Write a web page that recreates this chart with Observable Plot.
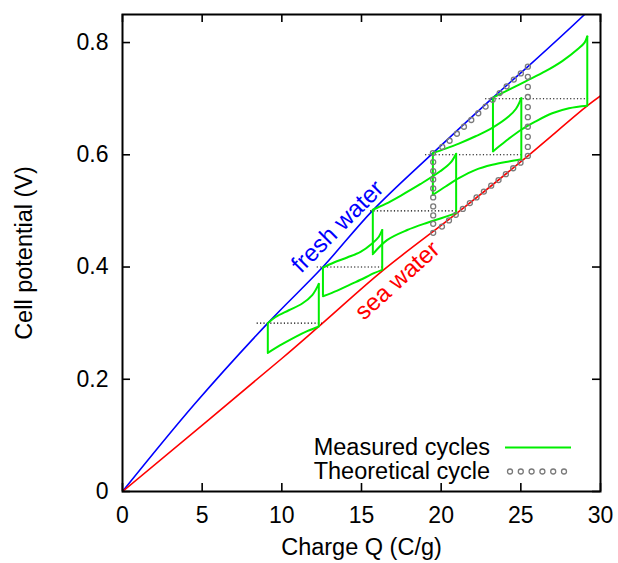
<!DOCTYPE html>
<html><head><meta charset="utf-8">
<script src="https://cdn.jsdelivr.net/npm/d3@7"></script>
<script src="https://cdn.jsdelivr.net/npm/@observablehq/plot@0.6"></script>
<style>body{margin:0;background:#fff}</style>
</head><body><div id="chart"></div>
<script>
// ---- data ----
const xTicks = [0, 5, 10, 15, 20, 25, 30];
const yTicks = [0, 0.2, 0.4, 0.6, 0.8];

const freshQ = [0, 4.5, 9.15, 12.57, 15.71, 19.48, 23.25, 25.44, 29.0, 29.6];
const freshV = [0, 0.155, 0.301, 0.400, 0.501, 0.603, 0.702, 0.757, 0.85, 0.867];

const seaQ = [0, 10, 12.4, 16.35, 20.95, 25.1, 29.2, 30];
const seaV = [0, 0.237, 0.296, 0.394, 0.495, 0.590, 0.688, 0.705];

const upperQ = [
  [9.12, 9.61, 10.44, 11.28, 11.91, 12.32],
  [12.58, 13.27, 14.10, 14.94, 15.67, 16.09, 16.30],
  [15.71, 16.51, 17.45, 18.71, 19.96, 20.59, 20.94],
  [19.48, 20.28, 21.11, 22.16, 23.21, 24.25, 24.70, 25.03],
  [23.25, 24.04, 25.30, 26.55, 27.60, 28.60, 29.00, 29.17]
];
const upperV = [
  [0.300, 0.311, 0.323, 0.335, 0.350, 0.370],
  [0.399, 0.408, 0.417, 0.427, 0.442, 0.454, 0.466],
  [0.502, 0.5125, 0.527, 0.548, 0.571, 0.586, 0.602],
  [0.603, 0.611, 0.620, 0.633, 0.648, 0.6685, 0.682, 0.701],
  [0.702, 0.713, 0.731, 0.749, 0.767, 0.789, 0.800, 0.811]
];
const lowerQ = [
  [9.12, 10.02, 10.86, 11.59, 12.32],
  [12.58, 13.48, 14.31, 15.15, 15.78, 16.30],
  [15.71, 16.60, 17.87, 19.13, 20.00, 20.94],
  [19.48, 20.28, 21.11, 22.16, 23.21, 24.25, 25.03],
  [23.25, 24.04, 24.88, 25.93, 26.97, 28.02, 29.17]
];
const lowerV = [
  [0.247, 0.2625, 0.2756, 0.2857, 0.294],
  [0.348, 0.358, 0.369, 0.380, 0.389, 0.395],
  [0.423, 0.448, 0.466, 0.479, 0.487, 0.496],
  [0.5286, 0.5435, 0.5583, 0.5732, 0.5821, 0.5881, 0.592],
  [0.606, 0.624, 0.642, 0.6595, 0.674, 0.683, 0.6875]
];

const levelV  = [0.3, 0.4, 0.5, 0.6, 0.7];
const levelQ1 = [8.45, 12.22, 15.57, 19.02, 22.79];
const levelQ2 = [12.55, 16.36, 21.03, 25.05, 29.25];

const theoQ = [19.48,20.07,20.53,20.99,21.43,21.89,22.33,22.79,23.23,23.67,24.11,24.56,25.00,25.44,
  25.44,25.44,25.44,25.44,25.44,25.44,25.44,25.44,25.44,
  24.98,24.52,24.06,23.60,23.14,22.68,22.22,21.80,21.36,20.92,20.49,20.05,19.50,
  19.5,19.5,19.5,19.5,19.5,19.5,19.5,19.5];
const theoV = [0.603,0.614,0.625,0.6375,0.650,0.662,0.674,0.686,0.698,0.710,0.722,0.734,0.745,0.757,
  0.739,0.721,0.703,0.685,0.667,0.650,0.632,0.614,0.598,
  0.586,0.576,0.5655,0.555,0.545,0.5345,0.524,0.514,0.5036,0.493,0.483,0.472,0.461,
  0.477,0.492,0.508,0.524,0.540,0.556,0.571,0.587];

const labelText  = ["fresh water", "sea water"];
const labelQ     = [13.5, 17.25];
const labelV     = [0.472, 0.376];
const labelAngle = [-45, -42];
const labelColor = ["#0000ff", "#ff0000"];

// ---- build tables ----
const fresh = freshQ.map((q, i) => ({q, v: freshV[i]}));
const sea = seaQ.map((q, i) => ({q, v: seaV[i]}));
const curves = [];
upperQ.forEach((qs, c) => qs.forEach((q, i) => curves.push({key: "u" + c, q, v: upperV[c][i]})));
lowerQ.forEach((qs, c) => qs.forEach((q, i) => curves.push({key: "l" + c, q, v: lowerV[c][i]})));
const leftSides = upperQ.map((qs, c) => ({q: qs[0], v1: lowerV[c][0], v2: upperV[c][0]}));
const rightSides = upperQ.map((qs, c) => ({q: qs[qs.length - 1], v1: lowerV[c][lowerV[c].length - 1], v2: upperV[c][upperV[c].length - 1]}));
const levels = levelV.map((v, i) => ({v, q1: levelQ1[i], q2: levelQ2[i]}));
const theo = theoQ.map((q, i) => ({q, v: theoV[i]}));
const labels = labelText.map((t, i) => ({t, q: labelQ[i], v: labelV[i], a: labelAngle[i], c: labelColor[i]}));

const FONT = "'Liberation Sans', Arial, Helvetica, sans-serif";
const mt = 14, mr = 18, mb = 72, ml = 122;
const W = 618, H = 563;
const fw = W - ml - mr, fh = H - mt - mb;
const green = "#00ee00";
const FS = 23.5;

const plot = Plot.plot({
  width: W, height: H,
  marginTop: mt, marginRight: mr, marginBottom: mb, marginLeft: ml,
  style: {fontFamily: FONT, fontSize: FS + "px", background: "#fff", color: "#000"},
  x: {domain: [0, 30]},
  y: {domain: [0, 0.85]},
  marks: [
    Plot.line(fresh, {x: "q", y: "v", stroke: "#0000ff", strokeWidth: 1.6, curve: "catmull-rom", clip: true}),
    Plot.line(sea, {x: "q", y: "v", stroke: "#ff0000", strokeWidth: 1.6, curve: "catmull-rom", clip: true}),
    Plot.ruleY(levels, {y: "v", x1: "q1", x2: "q2", stroke: "#000", strokeWidth: 1.1, strokeDasharray: "1.2,2.2"}),
    Plot.line(curves, {x: "q", y: "v", z: "key", stroke: green, strokeWidth: 2, curve: "catmull-rom"}),
    Plot.ruleX(leftSides, {x: "q", y1: "v1", y2: "v2", stroke: green, strokeWidth: 2}),
    Plot.ruleX(rightSides, {x: "q", y1: "v1", y2: "v2", stroke: green, strokeWidth: 2}),
    Plot.dot(theo, {x: "q", y: "v", r: 2.5, stroke: "#7a7a7a", strokeWidth: 1.3, fill: "none"}),
    Plot.text(labels, {x: "q", y: "v", text: "t", rotate: "a", fill: "c", fontSize: 24}),
    // inward ticks on all four sides
    Plot.tickX(xTicks, {x: d => d, insetTop: fh - 8, stroke: "#000", strokeWidth: 1.6}),
    Plot.tickX(xTicks, {x: d => d, insetBottom: fh - 8, stroke: "#000", strokeWidth: 1.6}),
    Plot.tickY(yTicks, {y: d => d, insetRight: fw - 8, stroke: "#000", strokeWidth: 1.6}),
    Plot.tickY(yTicks, {y: d => d, insetLeft: fw - 8, stroke: "#000", strokeWidth: 1.6}),
    Plot.frame({stroke: "#000", strokeWidth: 2}),
    Plot.axisX({ticks: xTicks, tickSize: 0, tickPadding: 15, fontSize: 23, label: null}),
    Plot.axisY({ticks: yTicks, tickSize: 0, tickPadding: 14, fontSize: 23, label: null, tickFormat: d => String(d)}),
    Plot.text(["Charge Q (C/g)"], {frameAnchor: "bottom", textAnchor: "middle", dy: 63, fontSize: FS}),
    Plot.text(["Cell potential (V)"], {frameAnchor: "left", textAnchor: "middle", rotate: -90, dx: -98, dy: 0, fontSize: FS})
  ]
});

// legend (inside the frame, bottom right)
const svg = d3.select(plot);
const lg = svg.append("g").attr("font-family", FONT).attr("font-size", FS);
lg.append("text").attr("x", 490).attr("y", 455).attr("text-anchor", "end").text("Measured cycles");
lg.append("text").attr("x", 490).attr("y", 479).attr("text-anchor", "end").text("Theoretical cycle");
lg.append("line").attr("x1", 505).attr("x2", 571).attr("y1", 447.5).attr("y2", 447.5)
  .attr("stroke", green).attr("stroke-width", 2);
d3.range(6).forEach(i => lg.append("circle").attr("cx", 510 + i * 10.8).attr("cy", 471.5).attr("r", 2.5)
  .attr("fill", "none").attr("stroke", "#7a7a7a").attr("stroke-width", 1.3));

document.getElementById("chart").append(plot);
</script></body></html>
